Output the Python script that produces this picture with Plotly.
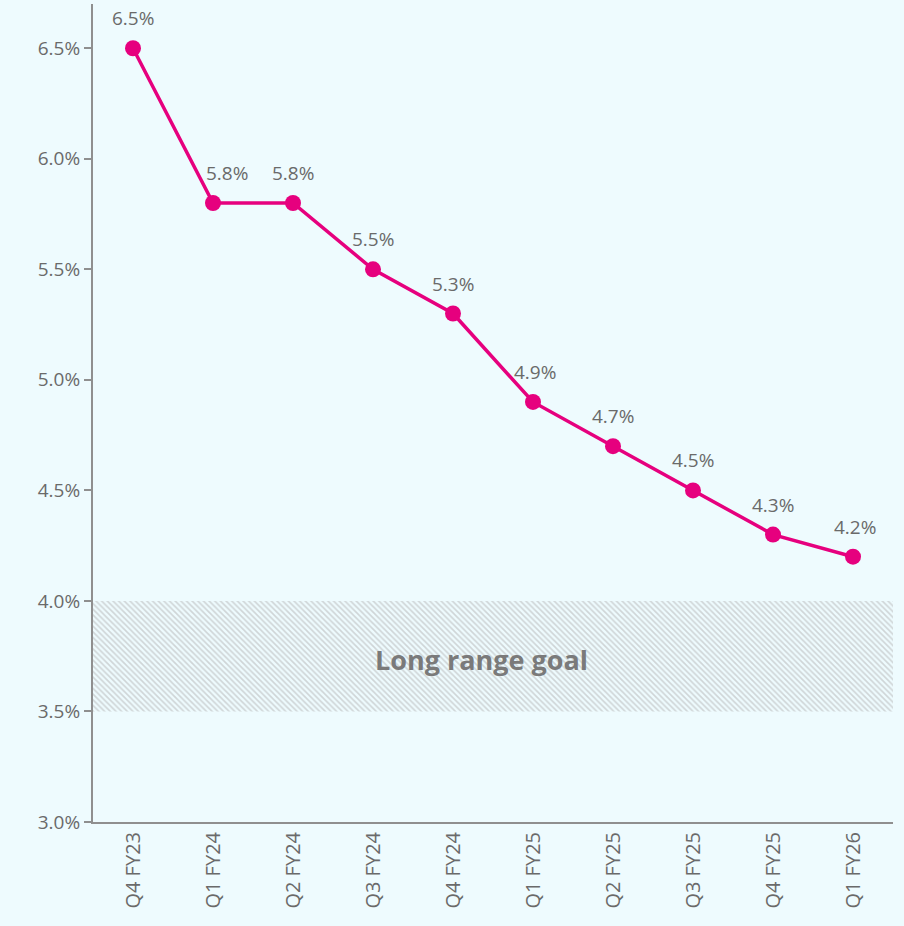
import plotly.graph_objects as go

categories = ["Q4 FY23", "Q1 FY24", "Q2 FY24", "Q3 FY24", "Q4 FY24",
              "Q1 FY25", "Q2 FY25", "Q3 FY25", "Q4 FY25", "Q1 FY26"]
values = [6.5, 5.8, 5.8, 5.5, 5.3, 4.9, 4.7, 4.5, 4.3, 4.2]
value_labels = ["6.5%", "5.8%", "5.8%", "5.5%", "5.3%", "4.9%", "4.7%", "4.5%", "4.3%", "4.2%"]
goal_low, goal_high = 3.5, 4.0
goal_label = "Long range goal"
y_ticks = [3.0, 3.5, 4.0, 4.5, 5.0, 5.5, 6.0, 6.5]

BG = "#EEFBFE"
PINK = "#E6007E"
GRAY = "#6A6A6A"
FONT = "Open Sans"

fig = go.Figure()

# hatched goal band on an overlay numeric x-axis spanning the full width
fig.add_trace(go.Scatter(
    x=[0, 1, 1, 0, 0], y=[goal_low, goal_low, goal_high, goal_high, goal_low],
    xaxis="x2", mode="lines", line=dict(width=0), fill="toself",
    fillcolor="rgba(0,0,0,0)",
    fillpattern=dict(shape="\\", fgcolor="#B0B0B0", bgcolor=BG, size=4, solidity=0.4),
    hoverinfo="skip", showlegend=False,
))

fig.add_trace(go.Scatter(
    x=categories, y=values, mode="lines+markers",
    line=dict(color=PINK, width=3.5),
    marker=dict(color=PINK, size=16),
    showlegend=False,
))

shifts = [0, 14, 0, 0, 0, 2, 0, 0, 0, 2]
for c, v, t, s in zip(categories, values, value_labels, shifts):
    fig.add_annotation(x=c, y=v, text=t, showarrow=False, yshift=30, xshift=s,
                       font=dict(family=FONT, size=19, color=GRAY))

fig.add_annotation(x=0.485, xref="x2", y=(goal_low + goal_high) / 2, text=f"<b>{goal_label}</b>",
                   yshift=-3, showarrow=False, font=dict(family=FONT, size=27, color="#7A7A7A"))

fig.update_layout(
    width=904, height=926,
    paper_bgcolor=BG, plot_bgcolor=BG,
    margin=dict(l=93, r=11, t=4, b=104),
    font=dict(family=FONT, color=GRAY),
    xaxis=dict(
        type="category", range=[-0.5, 9.5], tickangle=-90,
        showgrid=False, zeroline=False, showline=True, linecolor="#8F8F8F", linewidth=2,
        ticks="", tickfont=dict(family=FONT, size=20, color=GRAY),
    ),
    xaxis2=dict(overlaying="x", range=[0, 1], visible=False),
    yaxis=dict(
        range=[3.0, 6.7], tickvals=y_ticks, ticktext=[f"{v:.1f}%" for v in y_ticks],
        showgrid=False, zeroline=False, showline=True, linecolor="#8F8F8F", linewidth=2,
        ticks="outside", ticklen=7, tickcolor="#8F8F8F", tickwidth=2,
        tickfont=dict(family=FONT, size=19, color=GRAY),
    ),
)

fig.write_html(
    "out.html",
    config={"displayModeBar": False},
    post_script="document.body.style.margin='0';document.body.style.overflow='hidden';"
                "document.body.style.background='#EEFBFE';",
)
